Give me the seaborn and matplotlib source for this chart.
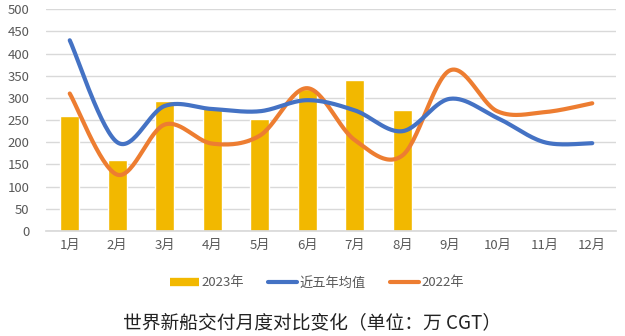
import numpy as np
import pandas as pd
import matplotlib
matplotlib.use("Agg")
import matplotlib.pyplot as plt
import seaborn as sns
from matplotlib.lines import Line2D

months = ["1月", "2月", "3月", "4月", "5月", "6月", "7月", "8月", "9月", "10月", "11月", "12月"]
y2023 = [260, 160, 293, 280, 253, 320, 340, 273]
avg5 = [430, 200, 282, 275, 270, 295, 272, 225, 298, 255, 200, 198]
y2022 = [310, 127, 240, 197, 215, 322, 205, 170, 362, 270, 268, 288]
yticks = [0, 50, 100, 150, 200, 250, 300, 350, 400, 450, 500]

sns.set_theme(style="white")
plt.rcParams['font.family'] = ['Noto Sans CJK SC', 'DejaVu Sans']

GOLD = "#F2B800"
BLUE = "#4472C4"
ORANGE = "#ED7D31"
TXT = "#595959"


def smooth(vals, n=30):
    p = np.asarray(vals, dtype=float)
    x = np.arange(len(p), dtype=float)
    P = np.concatenate([[p[0]], p, [p[-1]]])
    X = np.concatenate([[x[0]], x, [x[-1]]])
    xs, ys = [], []
    for i in range(1, len(P) - 2):
        t = np.linspace(0, 1, n, endpoint=False)
        for arr, out in ((X, xs), (P, ys)):
            p0, p1, p2, p3 = arr[i - 1], arr[i], arr[i + 1], arr[i + 2]
            m1 = (p2 - p0) / 2
            m2 = (p3 - p1) / 2
            h00 = 2 * t**3 - 3 * t**2 + 1
            h10 = t**3 - 2 * t**2 + t
            h01 = -2 * t**3 + 3 * t**2
            h11 = t**3 - t**2
            out.extend(h00 * p1 + h10 * m1 + h01 * p2 + h11 * m2)
    xs.append(x[-1]); ys.append(p[-1])
    return np.array(xs), np.array(ys)


fig = plt.figure(figsize=(6.25, 3.36), dpi=100)
ax = fig.add_axes([0.0736, 0.3125, 0.912, 0.66])

df = pd.DataFrame({"month": months[:len(y2023)], "val": y2023})
sns.barplot(data=df, x="month", y="val", order=months, color=GOLD,
            saturation=1, width=0.4, ax=ax, zorder=2)

for vals, col in ((y2022, ORANGE), (avg5, BLUE)):
    sx, sy = smooth(vals)
    ax.plot(sx, sy, color=col, lw=3, solid_capstyle="round", zorder=3)

ax.set_xlim(-0.5, 11.5)
ax.set_ylim(0, 500)
ax.set_yticks(yticks)
ax.yaxis.grid(True, color="#D9D9D9", lw=1, zorder=0)
ax.set_axisbelow(True)
for s in ["top", "right", "left"]:
    ax.spines[s].set_visible(False)
ax.spines["bottom"].set_color("#D9D9D9")
ax.tick_params(axis="both", length=0, labelsize=9.5, labelcolor=TXT)
ax.tick_params(axis="y", pad=12)
ax.tick_params(axis="x", pad=6)
ax.set_xlabel("")
ax.set_ylabel("")

handles = [Line2D([], [], color=GOLD, lw=6, solid_capstyle="butt"),
           Line2D([], [], color=BLUE, lw=3, solid_capstyle="round"),
           Line2D([], [], color=ORANGE, lw=3, solid_capstyle="round")]
fig.legend(handles, ["2023年", "近五年均值", "2022年"], loc="center",
           bbox_to_anchor=(0.507, 0.158), ncol=3, frameon=False,
           fontsize=9.5, labelcolor=TXT, handlelength=2.2, handletextpad=0.2,
           columnspacing=1.8)

fig.text(0.5, 0.04, "世界新船交付月度对比变化（单位：万 CGT）", ha="center",
         va="center", fontsize=13.5, color="#222222", fontweight="light")

fig.savefig("out.png", dpi=100)
